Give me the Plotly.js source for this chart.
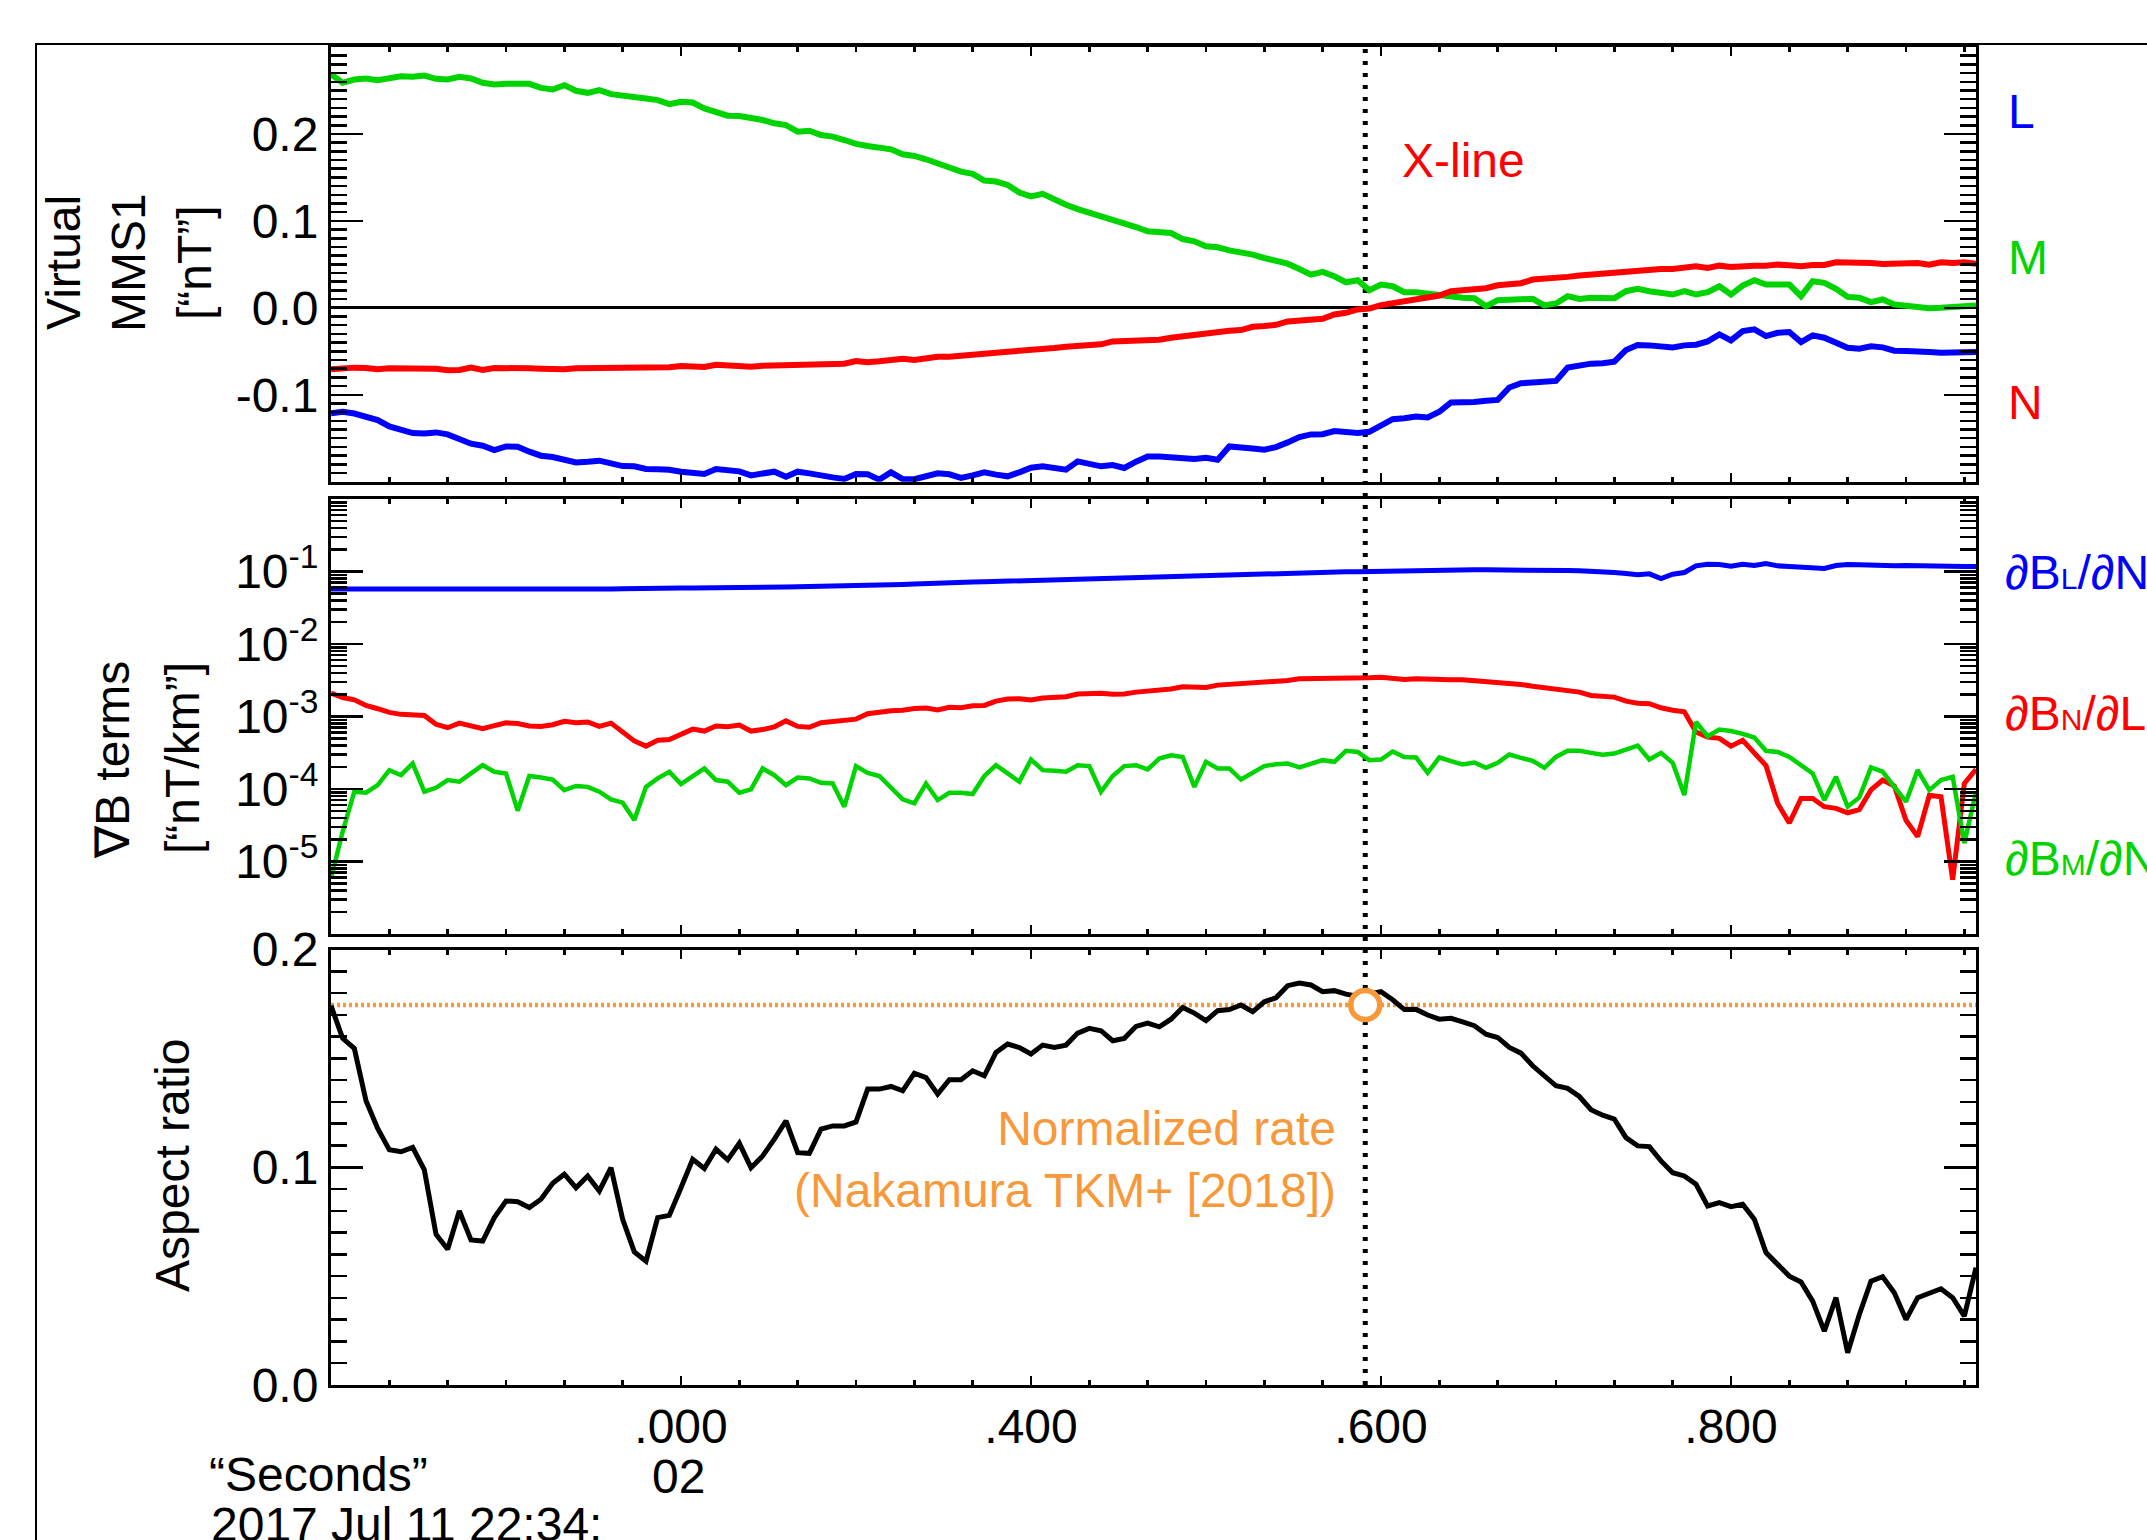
<!DOCTYPE html>
<html>
<head>
<meta charset="utf-8">
<script src="https://cdn.plot.ly/plotly-3.0.1.min.js"></script>
<style>
html, body { margin: 0; padding: 0; background: #ffffff; }
#chart { width: 2147px; height: 1540px; }
</style>
</head>
<body>
<div id="chart"></div>
<script>
// ---------------- data ----------------
const SAMPLE_RATE = 150;          // samples per second of the virtual spacecraft series
const XLINE = 0.591;              // time of the X-line crossing (s after start)
const RATE = 0.1745;              // normalized reconnection rate (Nakamura TKM+ 2018)

// Panel 1: Virtual MMS1 magnetic field [nT]
const B_L = [
-0.1212,-0.1196,-0.1216,-0.1261,-0.1292,-0.1365,-0.1395,-0.1441,-0.1445,-0.1433,
-0.1456,-0.151,-0.1563,-0.1586,-0.1636,-0.1594,-0.1598,-0.1655,-0.1701,-0.1716,
-0.1747,-0.1778,-0.177,-0.1758,-0.1789,-0.182,-0.1823,-0.1854,-0.1858,-0.1862,
-0.1885,-0.1892,-0.1911,-0.1854,-0.1865,-0.1881,-0.1927,-0.1911,-0.1885,-0.1942,
-0.1885,-0.1904,-0.1919,-0.195,-0.1969,-0.1911,-0.1915,-0.1976,-0.1892,-0.1969,
-0.1972,-0.1931,-0.1904,-0.1915,-0.1957,-0.1927,-0.1892,-0.1919,-0.1938,-0.1892,
-0.1839,-0.1823,-0.1842,-0.1862,-0.1766,-0.1793,-0.1823,-0.1808,-0.1842,-0.177,
-0.171,-0.171,
-0.1716,-0.172,-0.1739,-0.1724,-0.1747,-0.1594,-0.1613,-0.1617,-0.1632,-0.1602,
-0.1548,-0.1487,-0.1456,-0.1453,-0.1418,-0.1433,-0.1441,-0.1426,-0.1357,-0.1281,
-0.1269,-0.125,-0.1261,-0.1196,-0.1089,-0.1089,-0.1082,-0.107,-0.1059,-0.0917,
-0.0868,-0.086,-0.0845,-0.0841,-0.0688,-0.0657,-0.0642,-0.0638,-0.0619,-0.0485,
-0.0428,-0.0432,-0.044,-0.0455,-0.0432,-0.0424,-0.0386,-0.0306,-0.0375,-0.0268,
-0.0248,-0.0325,-0.0287,-0.0279,-0.0394,-0.0317,-0.0344,-0.0394,-0.0459,-0.047,
-0.0443,-0.0455,-0.0493,-0.0497,-0.0497,-0.0508,-0.0516,-0.0512,-0.0508,-0.0508
];
const B_M = [
0.2687,0.2588,0.2626,0.2638,0.2619,0.2649,0.2664,0.2657,0.2672,0.2634,
0.2626,0.2657,0.2638,0.2588,0.2569,0.2576,0.258,0.2576,0.253,0.2511,
0.2561,0.2496,0.2473,0.2504,0.2458,0.2446,0.2435,0.2408,0.2389,0.2343,
0.237,0.2362,0.2294,0.2244,0.221,0.2206,0.219,0.216,0.2122,0.2102,
0.2026,0.2037,0.1988,0.1969,0.193,0.1885,0.1862,0.1846,0.1823,0.1766,
0.1747,0.1709,0.1663,0.1613,0.1567,0.1541,0.1464,0.1453,0.1414,0.1326,
0.1281,0.1311,0.1242,0.1185,0.1135,0.1097,0.1051,0.1021,0.0967,0.0929,
0.088,0.087,
0.086,0.0791,0.0765,0.0707,0.0696,0.0661,0.0642,0.0612,0.0573,0.0543,
0.0508,0.0447,0.0382,0.0413,0.0363,0.0294,0.0317,0.0203,0.0268,0.0248,
0.018,0.018,0.0164,0.0141,0.0134,0.0115,0.0111,0.0019,0.0088,0.0092,
0.0103,0.0103,0.0027,0.005,0.0134,0.0103,0.0115,0.0111,0.0111,0.0191,
0.0218,0.0191,0.0164,0.0153,0.0191,0.0153,0.018,0.0248,0.0153,0.0256,
0.0317,0.0268,0.0268,0.0268,0.0134,0.0306,0.0287,0.0218,0.0126,0.0115,
0.0065,0.0096,0.0038,0.0019,0.0011,-0.0004,0.0,0.0008,0.0019,0.0027
];
const B_N = [
-0.0707,-0.0692,-0.0688,-0.0692,-0.0707,-0.0696,-0.0696,-0.07,-0.07,-0.07,
-0.0719,-0.0715,-0.0688,-0.0715,-0.0692,-0.0688,-0.0688,-0.0696,-0.07,-0.0707,
-0.0707,-0.0696,-0.0696,-0.07,-0.07,-0.0696,-0.0696,-0.0692,-0.0688,-0.0684,
-0.0669,-0.068,-0.068,-0.0654,-0.0661,-0.0673,-0.0677,-0.0665,-0.0661,-0.0661,
-0.0654,-0.0638,-0.0638,-0.0638,-0.0642,-0.0612,-0.0627,-0.0615,-0.06,-0.0585,
-0.06,-0.0573,-0.0562,-0.0562,-0.0547,-0.0531,-0.052,-0.0516,-0.0505,-0.0497,
-0.0478,-0.0478,-0.0463,-0.0447,-0.0436,-0.0436,-0.042,-0.0386,-0.0382,-0.0371,
-0.036,-0.0367,
-0.0344,-0.0325,-0.0306,-0.0291,-0.0275,-0.0264,-0.0256,-0.0218,-0.021,-0.0195,
-0.0157,-0.0145,-0.0134,-0.0126,-0.0076,-0.0057,-0.0019,-0.0008,0.0031,0.005,
0.008,0.0096,0.0122,0.0141,0.0191,0.0203,0.021,0.0226,0.026,0.0268,
0.0283,0.0325,0.0333,0.0336,0.0356,0.0371,0.0382,0.039,0.0401,0.0417,
0.044,0.044,0.0447,0.0447,0.0459,0.0478,0.0459,0.0485,0.047,0.0485,
0.0485,0.0485,0.0497,0.0489,0.0478,0.0493,0.0493,0.0524,0.0524,0.0524,
0.0516,0.0505,0.0508,0.0512,0.0516,0.0497,0.0524,0.0516,0.0524,0.0508
];

// Panel 2: gradient terms [nT/km]
const dBL_dN = [
0.0572,0.0572,0.0566,0.0566,0.0566,0.0572,0.0572,0.0566,0.0566,0.0566,
0.056,0.056,0.0554,0.0566,0.0566,0.0566,0.0566,0.0566,0.056,0.056,
0.056,0.0566,0.0566,0.0566,0.0572,0.0578,0.0584,0.0584,0.0584,0.059,
0.059,0.059,0.059,0.059,0.0596,0.0596,0.0603,0.0603,0.0609,0.0609,
0.0615,0.0615,0.0622,0.0628,0.0635,0.0642,0.0642,0.0649,0.0656,0.0663,
0.067,0.0684,0.0691,0.0699,0.0706,0.0714,0.0721,0.0729,0.0737,0.0744,
0.076,0.0768,0.0776,0.0785,0.0793,0.0801,0.081,0.0818,0.0827,0.0836,
0.0845,0.0854,
0.0863,0.0872,0.0881,0.089,0.09,0.09,0.0909,0.0919,0.0929,0.0939,
0.0949,0.0959,0.0969,0.0969,0.0979,0.099,0.099,0.1,0.1,0.1011,
0.1011,0.1021,0.1032,0.1032,0.1043,0.1043,0.1054,0.1054,0.1054,0.1054,
0.1054,0.1065,0.1065,0.1043,0.1032,0.1021,0.1011,0.1,0.0969,0.0939,
0.09,0.0929,0.0801,0.0919,0.0969,0.1196,0.1261,0.1248,0.1184,0.1261,
0.1209,0.1288,0.1196,0.1171,0.1159,0.1111,0.11,0.1209,0.1248,0.1235,
0.1222,0.1171,0.1196,0.1209,0.1196,0.1184,0.1159,0.1171,0.1171,0.1171
];
const dBN_dL = [
0.0021,0.00183,0.0017,0.00142,0.00128,0.00114,0.00107,0.00107,0.00103,0.00078,
0.0007,0.00081,0.00073,0.00068,0.00075,0.00082,0.0008,0.00074,0.00073,0.00077,
0.00086,0.00082,0.00084,0.00073,0.00081,0.00061,0.00046,0.00039,0.00047,0.00048,
0.00056,0.00067,0.00063,0.00074,0.00072,0.00076,0.00063,0.00066,0.00072,0.00087,
0.00073,0.00071,0.00082,0.00086,0.0009,0.00092,0.00109,0.00116,0.0012,0.00122,
0.00129,0.00131,0.00123,0.00134,0.00132,0.00141,0.00142,0.00163,0.00174,0.00176,
0.00169,0.0018,0.00182,0.00187,0.00204,0.0021,0.0021,0.00202,0.00204,0.00217,
0.00224,0.00229,
0.00239,0.00257,0.00254,0.00251,0.00271,0.00277,0.00283,0.00286,0.00289,0.00301,
0.00314,0.00331,0.00331,0.00331,0.00331,0.00338,0.00338,0.00342,0.00349,0.00335,
0.00324,0.00331,0.00324,0.00321,0.00321,0.00321,0.00314,0.00301,0.00298,0.00289,
0.00277,0.00262,0.00251,0.00234,0.00229,0.00217,0.00195,0.00189,0.00185,0.00163,
0.00152,0.0015,0.00132,0.00122,0.00116,0.00061,0.00052,0.0005,0.00039,0.00047,
0.00031,0.00021,6.3e-5,3.4e-5,7.4e-5,7.4e-5,5.7e-5,5.4e-5,4.7e-5,5.2e-5,
9.7e-5,1.33e-4,1.1e-4,3.7e-5,2.2e-5,8.2e-5,7.8e-5,5.6e-6,1.19e-4,1.86e-4
];
const dBM_dN = [
5.9e-6,2.58e-5,9.17e-5,8.88e-5,1.13e-4,1.82e-4,1.55e-4,2.25e-4,9.17e-5,1.04e-4,
1.33e-4,1.26e-4,1.64e-4,2.13e-4,1.73e-4,1.64e-4,5.02e-5,1.51e-4,1.44e-4,1.35e-4,
9.66e-5,1.10e-4,1.07e-4,9.17e-5,7.19e-5,6.48e-5,3.74e-5,1.07e-4,1.40e-4,1.73e-4,
1.17e-4,1.51e-4,1.92e-4,1.33e-4,1.26e-4,8.88e-5,9.87e-5,1.92e-4,1.55e-4,1.13e-4,
1.44e-4,1.40e-4,1.22e-4,1.19e-4,5.70e-5,2.07e-4,1.67e-4,1.51e-4,1.02e-4,7.19e-5,
6.34e-5,1.19e-4,7.04e-5,8.88e-5,8.88e-5,8.51e-5,1.51e-4,2.13e-4,1.64e-4,1.26e-4,
2.55e-4,1.82e-4,1.78e-4,1.73e-4,2.13e-4,2.07e-4,9.17e-5,1.51e-4,2.07e-4,2.13e-4,
1.86e-4,2.63e-4,
2.92e-4,2.77e-4,1.07e-4,2.37e-4,1.92e-4,1.92e-4,1.35e-4,1.67e-4,2.07e-4,2.20e-4,
2.25e-4,1.98e-4,2.25e-4,2.50e-4,2.37e-4,3.36e-4,3.25e-4,2.50e-4,2.55e-4,3.29e-4,
2.77e-4,2.72e-4,1.67e-4,2.72e-4,2.42e-4,2.18e-4,2.32e-4,1.96e-4,2.30e-4,2.99e-4,
2.69e-4,2.45e-4,1.96e-4,2.77e-4,3.36e-4,3.36e-4,3.15e-4,2.96e-4,3.08e-4,3.54e-4,
3.97e-4,2.55e-4,3.15e-4,2.30e-4,8.24e-5,8.40e-4,5.34e-4,6.59e-4,6.32e-4,5.75e-4,
5.12e-4,3.36e-4,3.25e-4,2.77e-4,2.13e-4,1.64e-4,7.04e-5,1.47e-4,5.70e-5,7.66e-5,
1.98e-4,1.73e-4,1.07e-4,6.68e-5,1.82e-4,9.66e-5,1.33e-4,1.47e-4,1.79e-5,9.17e-5
];

// Panel 3: aspect ratio
const ASPECT = [
0.1742,0.1592,0.1546,0.1305,0.1178,0.108,0.1071,0.1091,0.0988,0.0692,
0.0623,0.0799,0.0666,0.0661,0.0769,0.0845,0.0842,0.0815,0.0853,0.0926,
0.0968,0.0906,0.096,0.0891,0.0998,0.0761,0.0611,0.0569,0.0769,0.0779,
0.0906,0.1037,0.0994,0.1083,0.1034,0.111,0.0998,0.1052,0.1129,0.1213,
0.1067,0.1064,0.1175,0.119,0.119,0.1208,0.1359,0.1359,0.1371,0.1351,
0.1432,0.1412,0.1336,0.1402,0.1402,0.1443,0.142,0.1527,0.1566,0.155,
0.152,0.1561,0.155,0.1561,0.1616,0.1638,0.1627,0.1581,0.1592,0.1647,
0.1662,0.1645,
0.168,0.1734,0.1708,0.1673,0.1719,0.1724,0.1745,0.1714,0.176,0.1778,
0.1834,0.1846,0.1837,0.1806,0.1811,0.1795,0.1785,0.1795,0.1806,0.1769,
0.1724,0.1725,0.1699,0.168,0.1684,0.1668,0.165,0.1611,0.1596,0.155,
0.1524,0.1466,0.1423,0.1374,0.1362,0.1325,0.1264,0.1239,0.1221,0.1136,
0.1098,0.1095,0.1029,0.0975,0.096,0.0922,0.0822,0.0838,0.0819,0.083,
0.0761,0.0608,0.0554,0.05,0.0473,0.0385,0.0247,0.0401,0.0148,0.0324,
0.0477,0.0497,0.0424,0.0301,0.0401,0.0421,0.0442,0.0401,0.0316,0.0539
];

// Tick labels
const X_TICK_VALS = [0.2, 0.4, 0.6, 0.8];
const X_TICK_TEXT = ['.000', '.400', '.600', '.800'];
const Y1_TICK_VALS = [-0.2, -0.1, 0.0, 0.1, 0.2, 0.3];
const Y1_TICK_TEXT = ['', '-0.1', '0.0', '0.1', '0.2', ''];
const Y2_TICK_VALS = [1e-6, 1e-5, 1e-4, 1e-3, 1e-2, 1e-1, 1];
const Y2_TICK_TEXT = ['', '10<sup>-5</sup>', '10<sup>-4</sup>', '10<sup>-3</sup>', '10<sup>-2</sup>', '10<sup>-1</sup>', ''];
const Y3_TICK_VALS = [0, 0.05, 0.1, 0.15, 0.2];
const Y3_TICK_TEXT = ['0.0', '', '0.1', '', '0.2'];

// ---------------- helpers ----------------
const t = B_L.map((_, i) => i / SAMPLE_RATE);
function steps(a, b, d) {
  const out = []; const n = Math.round((b - a) / d);
  for (let i = 0; i <= n; i++) out.push(+(a + i * d).toFixed(6));
  return out;
}
const X_MINOR = steps(0, 0.94, 1 / 30).filter(v => v <= 0.94);
const Y1_MINOR = steps(-0.2, 0.3, 0.01);
const Y3_MINOR = steps(0, 0.2, 0.01);
const Y2_MINOR = [];
for (let e = -6; e <= -1; e++) for (let k = 2; k <= 9; k++) Y2_MINOR.push(k * Math.pow(10, e));

// ---------------- styles ----------------
const FONT = 'Liberation Sans, Arial, Helvetica, sans-serif';
const FS = 48;
const BLUE = '#0000ff', GREEN = '#00d400', RED = '#ff0000', ORANGE = '#f7993a';

// pixel -> paper helpers (plot area: x 331..1976, y 47..1385)
const PL = 331, PW = 1645, PB = 1385, PH = 1338;
const px = x => (x - PL) / PW;
const py = y => (PB - y) / PH;

function xAxis(anchor, labels) {
  return {
    anchor: anchor, domain: [0, 1], range: [0, 0.94],
    showline: true, linecolor: 'black', linewidth: 3, mirror: 'ticks',
    ticks: 'inside', ticklen: 9, tickwidth: 2.5, tickcolor: 'black',
    tickmode: 'array', tickvals: X_TICK_VALS, ticktext: X_TICK_TEXT,
    showticklabels: labels, ticklabelstandoff: -3,
    tickfont: { family: FONT, size: FS, color: 'black' },
    minor: { tickmode: 'array', tickvals: X_MINOR, ticks: 'inside', ticklen: 5, tickwidth: 2.5, tickcolor: 'black' },
    showgrid: false, zeroline: false, fixedrange: true
  };
}
function yAxis(anchor, domain, extra) {
  return Object.assign({
    anchor: anchor, domain: domain,
    showline: true, linecolor: 'black', linewidth: 3, mirror: 'ticks',
    ticks: 'inside', ticklen: 32, tickwidth: 2.5, tickcolor: 'black',
    tickmode: 'array', ticklabelstandoff: 0,
    tickfont: { family: FONT, size: FS, color: 'black' },
    showgrid: false, zeroline: false, fixedrange: true
  }, extra);
}

const traces = [
  { x: t, y: B_L, xaxis: 'x', yaxis: 'y', mode: 'lines', line: { color: BLUE, width: 6 } },
  { x: t, y: B_M, xaxis: 'x', yaxis: 'y', mode: 'lines', line: { color: GREEN, width: 6 } },
  { x: t, y: B_N, xaxis: 'x', yaxis: 'y', mode: 'lines', line: { color: RED, width: 6 } },
  { x: t, y: dBL_dN, xaxis: 'x2', yaxis: 'y2', mode: 'lines', line: { color: BLUE, width: 5 } },
  { x: t, y: dBN_dL, xaxis: 'x2', yaxis: 'y2', mode: 'lines', line: { color: RED, width: 5 } },
  { x: t, y: dBM_dN, xaxis: 'x2', yaxis: 'y2', mode: 'lines', line: { color: GREEN, width: 4.5 } },
  { x: t, y: ASPECT, xaxis: 'x3', yaxis: 'y3', mode: 'lines', line: { color: 'black', width: 5 } },
  { x: [XLINE], y: [RATE], xaxis: 'x3', yaxis: 'y3', mode: 'markers', cliponaxis: false,
    marker: { symbol: 'circle', size: 29, color: 'white', line: { color: ORANGE, width: 5.5 } } }
];

function ann(text, x, y, opts) {
  return Object.assign({
    text: text, xref: 'paper', yref: 'paper', x: px(x), y: py(y),
    xanchor: 'center', yanchor: 'middle', showarrow: false,
    font: { family: FONT, size: FS, color: 'black' }
  }, opts || {});
}
const sub = s => '<span style="font-size:30px">' + s + '</span>';

const annotations = [
  ann('Virtual', 63, 263, { textangle: -90 }),
  ann('MMS1', 128, 263, { textangle: -90 }),
  ann('[“nT”]', 194, 263, { textangle: -90 }),
  ann('∇B terms', 113, 760, { textangle: -90 }),
  ann('[“nT/km”]', 182, 758, { textangle: -90 }),
  ann('Aspect ratio', 172, 1166, { textangle: -90 }),
  ann('X-line', 1463, 160, { font: { family: FONT, size: FS, color: RED } }),
  ann('L', 2006, 112, { xanchor: 'left', font: { family: FONT, size: FS, color: BLUE } }),
  ann('M', 2006, 257, { xanchor: 'left', font: { family: FONT, size: FS, color: GREEN } }),
  ann('N', 2006, 402, { xanchor: 'left', font: { family: FONT, size: FS, color: RED } }),
  ann('∂B' + sub('L') + '/∂N', 2003, 572, { xanchor: 'left', font: { family: FONT, size: FS, color: BLUE } }),
  ann('∂B' + sub('N') + '/∂L', 2003, 713, { xanchor: 'left', font: { family: FONT, size: FS, color: RED } }),
  ann('∂B' + sub('M') + '/∂N', 2003, 858, { xanchor: 'left', font: { family: FONT, size: FS, color: GREEN } }),
  ann('Normalized rate<br>(Nakamura TKM+ [2018])', 1338, 1159,
      { xanchor: 'right', align: 'right', font: { family: FONT, size: FS, color: ORANGE } }),
  ann('“Seconds”', 207, 1474, { xanchor: 'left' }),
  ann('02', 678, 1476),
  ann('2017 Jul 11 22:34:', 209, 1524, { xanchor: 'left' })
];

const shapes = [
  { type: 'line', xref: 'x', yref: 'paper', x0: XLINE, x1: XLINE, y0: 0, y1: 1, layer: 'below',
    line: { color: 'black', width: 5, dash: '4px,8px' } },
  { type: 'line', xref: 'x3 domain', yref: 'y3', x0: 0, x1: 1, y0: RATE, y1: RATE, layer: 'below',
    line: { color: ORANGE, width: 4.5, dash: '3px,3px' } },
  { type: 'rect', xref: 'paper', yref: 'paper', x0: px(36), x1: px(2200), y0: py(1600), y1: py(44),
    layer: 'below', line: { color: 'black', width: 2 }, fillcolor: 'rgba(0,0,0,0)' }
];

const layout = {
  width: 2147, height: 1540,
  margin: { l: PL, r: 2147 - PL - PW, t: 47, b: 1540 - PB, autoexpand: false },
  paper_bgcolor: 'white', plot_bgcolor: 'rgba(0,0,0,0)',
  showlegend: false,
  font: { family: FONT, size: FS, color: 'black' },
  xaxis: xAxis('y', false),
  xaxis2: xAxis('y2', false),
  xaxis3: xAxis('y3', true),
  yaxis: yAxis('x', [py(481.7), 1], {
    range: [-0.2, 0.3], tickvals: Y1_TICK_VALS, ticktext: Y1_TICK_TEXT,
    zeroline: true, zerolinecolor: 'black', zerolinewidth: 3,
    minor: { tickmode: 'array', tickvals: Y1_MINOR, ticks: 'inside', ticklen: 16, tickwidth: 2.5, tickcolor: 'black' }
  }),
  yaxis2: yAxis('x2', [py(934), py(499)], {
    type: 'log', range: [-6, 0], tickvals: Y2_TICK_VALS, ticktext: Y2_TICK_TEXT,
    minor: { tickmode: 'array', tickvals: Y2_MINOR, ticks: 'inside', ticklen: 16, tickwidth: 2.5, tickcolor: 'black' }
  }),
  yaxis3: yAxis('x3', [0, py(949.5)], {
    range: [0, 0.2], tickvals: Y3_TICK_VALS, ticktext: Y3_TICK_TEXT,
    minor: { tickmode: 'array', tickvals: Y3_MINOR, ticks: 'inside', ticklen: 16, tickwidth: 2.5, tickcolor: 'black' }
  }),
  annotations: annotations,
  shapes: shapes
};

Plotly.newPlot('chart', traces, layout, { staticPlot: true, displayModeBar: false });
</script>
</body>
</html>
